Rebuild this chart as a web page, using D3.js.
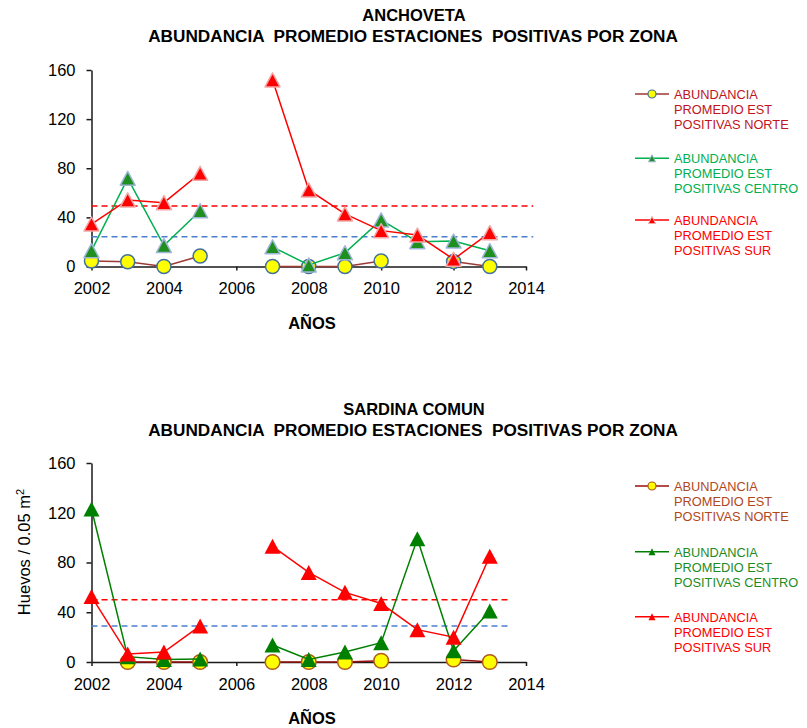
<!DOCTYPE html>
<html><head><meta charset="utf-8">
<script src="https://cdn.jsdelivr.net/npm/d3@7"></script>
<style>
body{margin:0;background:#fff}
text{font-family:Arial,"Liberation Sans",sans-serif}
</style>
</head><body>
<svg id="c" width="807" height="728"></svg>
<script>
// ---------- DATA ----------
const years = [2002,2003,2004,2005,2006,2007,2008,2009,2010,2011,2012,2013];
const xTicks = [2002,2004,2006,2008,2010,2012,2014];
const yTicks = [0,40,80,120,160];

const anchTitle = ["ANCHOVETA", "ABUNDANCIA  PROMEDIO ESTACIONES  POSITIVAS POR ZONA"];
const anchNorte  = [4.5, 3.9, 0, 8.5, null, 0, 0, 0, 4.5, null, 4, 0];
const anchCentro = [12.9, 71.8, 17, 45.4, null, 16, 1.2, 11.2, 37.9, 20.2, 20.7, 12.9];
const anchSur    = [34.6, 54.2, 52, 75.9, null, 151.9, 62.3, 42.8, 29.2, 25.6, 5.9, 27.5];
const anchRefRed = 49.3;
const anchRefBlue = 24.3;

const sardTitle = ["SARDINA COMUN", "ABUNDANCIA  PROMEDIO ESTACIONES  POSITIVAS POR ZONA"];
const sardNorte  = [null, 0, 0, 0, null, 0, 0, 0, 1, null, 2, 0];
const sardCentro = [123, 4.3, 2, 2.5, null, 13.7, 2, 8, 15.5, 99, 9, 41];
const sardSur    = [52.6, 6.4, 8, 29, null, 93, 72, 56, 47, 26, 20, 85];
const sardRefRed = 50;
const sardRefBlue = 29;

const legendLabels = [
  ["ABUNDANCIA","PROMEDIO EST","POSITIVAS NORTE"],
  ["ABUNDANCIA","PROMEDIO EST","POSITIVAS CENTRO"],
  ["ABUNDANCIA","PROMEDIO EST","POSITIVAS SUR"]
];
const xLabel = "AÑOS";

// ---------- DRAW ----------
const svg = d3.select("#c");

function triPath(w, h){ // triangle centred on 0,0
  return `M0,${-h/2}L${w/2},${h/2}L${-w/2},${h/2}Z`;
}

function chart(o){
  const g = svg.append("g");
  const x = d3.scaleLinear().domain([2002,2014]).range([91.5,526]);
  const y = d3.scaleLinear().domain([0,160]).range([o.y0,o.y160]);

  // titles
  g.append("text").attr("x",414).attr("y",o.titleY).attr("text-anchor","middle")
    .attr("font-weight","bold").attr("font-size",16.5).style("white-space","pre").text(o.title[0]);
  g.append("text").attr("x",413).attr("y",o.titleY+21).attr("text-anchor","middle")
    .attr("font-weight","bold").attr("font-size",17.2).style("white-space","pre").text(o.title[1]);

  // axes
  const ya = g.append("g").attr("transform",`translate(${x(2002)},0)`)
    .call(d3.axisLeft(y).tickValues(yTicks).tickSize(5).tickSizeOuter(0).tickPadding(11));
  const xa = g.append("g").attr("transform",`translate(0,${o.y0})`)
    .call(d3.axisBottom(x).tickValues(xTicks).tickFormat(d3.format("d")).tickSize(4).tickSizeOuter(0).tickPadding(12));
  [ya,xa].forEach(a=>{
    a.selectAll("path,line").attr("stroke","#1a1a1a").attr("stroke-width",1.5);
    a.selectAll("text").attr("font-size",16.5).attr("fill","#000").attr("font-family","Arial, 'Liberation Sans', sans-serif");
  });

  // x label
  g.append("text").attr("x",312).attr("y",o.xLabY).attr("text-anchor","middle")
    .attr("font-weight","bold").attr("font-size",16.5).text(xLabel);

  // reference dashed lines
  [[o.refRed,"#ff0000"],[o.refBlue,"#4a7fd0"]].forEach(([v,c])=>{
    g.append("line").attr("x1",x(2002)).attr("x2",x(o.refEnd)).attr("y1",y(v)).attr("y2",y(v))
      .attr("stroke",c).attr("stroke-width",1.5).attr("stroke-dasharray","6,4");
  });

  const line = d3.line().defined(d=>d[1]!=null).x(d=>x(d[0])).y(d=>y(d[1]));
  o.series.forEach(s=>{
    const pts = years.map((yr,i)=>[yr,s.values[i]]);
    g.append("path").datum(pts).attr("d",line).attr("fill","none")
      .attr("stroke",s.line).attr("stroke-width",1.5);
    const m = g.append("g");
    pts.filter(d=>d[1]!=null).forEach(d=>{
      if(s.marker==="circle"){
        m.append("circle").attr("cx",x(d[0])).attr("cy",y(d[1])).attr("r",o.circR)
          .attr("fill","#ffff00").attr("stroke",s.mstroke).attr("stroke-width",1.5);
      } else {
        m.append("path").attr("transform",`translate(${x(d[0])},${y(d[1])})`)
          .attr("d",triPath(o.triW,o.triH)).attr("fill",s.mfill)
          .attr("stroke",s.mstroke).attr("stroke-width",s.mstroke==="none"?0:1.5)
          .attr("stroke-linejoin","round");
      }
    });
  });

  // legend
  o.series.forEach((s,i)=>{
    const ly = o.legY[i];
    g.append("line").attr("x1",635).attr("x2",669).attr("y1",ly).attr("y2",ly)
      .attr("stroke",s.line).attr("stroke-width",1.5);
    if(s.marker==="circle"){
      g.append("circle").attr("cx",652).attr("cy",ly).attr("r",4)
        .attr("fill","#ffff00").attr("stroke",s.mstroke).attr("stroke-width",1.2);
    } else {
      g.append("path").attr("transform",`translate(652,${ly})`).attr("d",triPath(7,7))
        .attr("fill",s.mfill).attr("stroke",s.mstroke).attr("stroke-width",s.mstroke==="none"?0:1);
    }
    const t = g.append("text").attr("x",674).attr("y",ly+5).attr("font-size",12.8).attr("fill",s.text);
    legendLabels[i].forEach((l,j)=>t.append("tspan").attr("x",674).attr("dy",j?15:0).text(l));
  });
  return {g,x,y};
}

chart({
  title: anchTitle, titleY: 20.7, y0: 266.5, y160: 70, xLabY: 329,
  refRed: anchRefRed, refBlue: anchRefBlue, refEnd: 2014.2,
  circR: 7, triW: 15, triH: 14,
  legY: [94, 158.3, 220],
  series: [
    {values: anchNorte, marker:"circle", line:"#9b3a36", mstroke:"#41719c", text:"#c0141e"},
    {values: anchCentro, marker:"tri", line:"#00b050", mfill:"#1f8f1f", mstroke:"#9fb5d8", text:"#00b050"},
    {values: anchSur, marker:"tri", line:"#ff0000", mfill:"#ff0000", mstroke:"#f2a6a6", text:"#ff0000"}
  ]
});

chart({
  title: sardTitle, titleY: 415, y0: 662, y160: 463, xLabY: 724,
  refRed: sardRefRed, refBlue: sardRefBlue, refEnd: 2013.5,
  circR: 7.3, triW: 16, triH: 15,
  legY: [486, 551.7, 616.7],
  series: [
    {values: sardNorte, marker:"circle", line:"#9a0f0f", mstroke:"#b05a1c", text:"#b0481c"},
    {values: sardCentro, marker:"tri", line:"#008000", mfill:"#008000", mstroke:"none", text:"#1e8c1e"},
    {values: sardSur, marker:"tri", line:"#ff0000", mfill:"#ff0000", mstroke:"none", text:"#ff0000"}
  ]
});

// y label (bottom chart)
const yl = svg.append("text").attr("transform","translate(30,552) rotate(-90)")
  .attr("text-anchor","middle").attr("font-size",16.5).attr("fill","#000");
yl.append("tspan").text("Huevos / 0.05 m");
yl.append("tspan").attr("font-size",11).attr("dy",-6).text("2");
</script>
</body></html>
